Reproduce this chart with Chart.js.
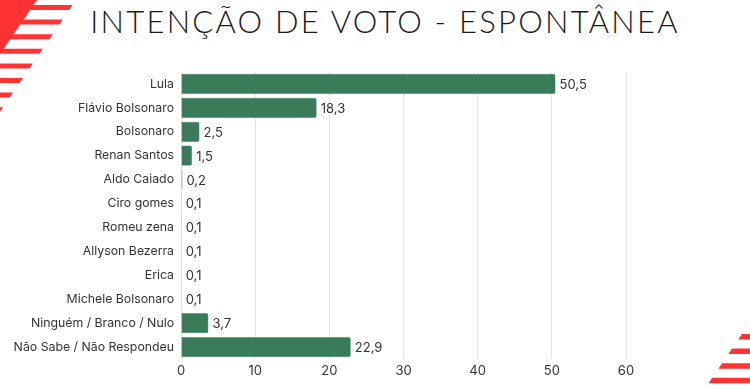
<!DOCTYPE html>
<html lang="pt">
<head>
    <meta charset="UTF-8">
    <title>Intenção de voto - espontânea</title>
    <script src="https://cdn.jsdelivr.net/npm/chart.js@4.4.0/dist/chart.umd.min.js"></script>
    <style>
        html, body {
            margin: 0;
            padding: 0;
            background: #ffffff;
        }
        .wrap {
            position: relative;
            width: 750px;
            height: 389px;
            overflow: hidden;
        }
        .title {
            position: absolute;
            left: 10px;
            top: 2px;
            width: 750px;
            text-align: center;
            font-family: "Lato", "Open Sans", sans-serif;
            font-weight: 300;
            font-size: 31px;
            letter-spacing: 2.25px;
            color: #1a1a1a;
        }
        .deco {
            position: absolute;
            left: 0;
            top: 0;
        }
        canvas {
            position: absolute;
            left: 0;
            top: 0;
        }
    </style>
</head>
<body>
    <div class="wrap">
        <svg class="deco" width="750" height="389" id="deco"></svg>
        <div class="title">INTENÇÃO DE VOTO - ESPONTÂNEA</div>
        <canvas id="votoChart" width="750" height="389"></canvas>
    </div>

    <script>
        // dados
        const candidatos = ['Lula', 'Flávio Bolsonaro', 'Bolsonaro', 'Renan Santos', 'Aldo Caiado',
            'Ciro gomes', 'Romeu zena', 'Allyson Bezerra', 'Erica', 'Michele Bolsonaro',
            'Ninguém / Branco / Nulo', 'Não Sabe / Não Respondeu'];
        const percentuais = [50.5, 18.3, 2.5, 1.5, 0.2, 0.1, 0.1, 0.1, 0.1, 0.1, 3.7, 22.9];
        const eixoX = [0, 10, 20, 30, 40, 50, 60];

        // faixas vermelhas decorativas
        const svg = document.getElementById('deco');
        let shapes = '<polygon points="0,0 37,0 0,54" fill="#ff3333"/>';
        for (let i = 0; i < 8; i++) {
            const y1 = 5 + 14.6 * i, y2 = y1 + 5;
            shapes += `<polygon points="0,${y1} ${76 - 0.68 * y1},${y1} ${76 - 0.68 * y2},${y2} 0,${y2}" fill="#ff3333"/>`;
        }
        for (let i = 0; i < 4; i++) {
            const y1 = 334 + 14.6 * i, y2 = y1 + 5.5;
            shapes += `<polygon points="${742 - 0.68 * (y1 - 334)},${y1} 750,${y1} 750,${y2} ${742 - 0.68 * (y2 - 334)},${y2}" fill="#ff3333"/>`;
        }
        svg.innerHTML = shapes;

        // rótulos de valor ao lado das barras
        const valorLabels = {
            id: 'valorLabels',
            afterDatasetsDraw(chart) {
                const ctx = chart.ctx;
                const meta = chart.getDatasetMeta(0);
                ctx.save();
                ctx.font = '13px Inter, "Noto Sans", sans-serif';
                ctx.fillStyle = '#333';
                ctx.textBaseline = 'middle';
                meta.data.forEach((bar, i) => {
                    const txt = percentuais[i].toFixed(1).replace('.', ',');
                    ctx.fillText(txt, bar.x + 4, bar.y + 1);
                });
                ctx.restore();
            }
        };

        new Chart(document.getElementById('votoChart'), {
            type: 'bar',
            data: {
                labels: candidatos,
                datasets: [{
                    data: percentuais,
                    backgroundColor: '#3a7b5a',
                    borderColor: '#4f8a6a',
                    borderWidth: 0.5,
                    borderRadius: 2,
                    borderSkipped: 'left',
                    categoryPercentage: 1,
                    barPercentage: 0.85
                }]
            },
            options: {
                indexAxis: 'y',
                responsive: false,
                animation: false,
                layout: { padding: { left: 0, right: 124, top: 72, bottom: 8 } },
                scales: {
                    x: {
                        min: 0,
                        max: 60,
                        afterBuildTicks: (scale) => { scale.ticks = eixoX.map(v => ({ value: v })); },
                        afterFit: (scale) => { scale.height = 22; },
                        grid: { color: '#e3e3e3', drawTicks: false },
                        border: { display: false },
                        ticks: {
                            padding: 4,
                            color: '#333',
                            font: { family: 'Inter, "Noto Sans", sans-serif', size: 13 }
                        }
                    },
                    y: {
                        afterFit: (scale) => { scale.width = 181; },
                        grid: { display: false, drawTicks: false },
                        border: { display: false },
                        ticks: {
                            padding: 7,
                            color: '#333',
                            font: { family: 'Inter, "Noto Sans", sans-serif', size: 12.3 }
                        }
                    }
                },
                plugins: {
                    legend: { display: false },
                    tooltip: { enabled: false }
                }
            },
            plugins: [valorLabels]
        });
    </script>
</body>
</html>
